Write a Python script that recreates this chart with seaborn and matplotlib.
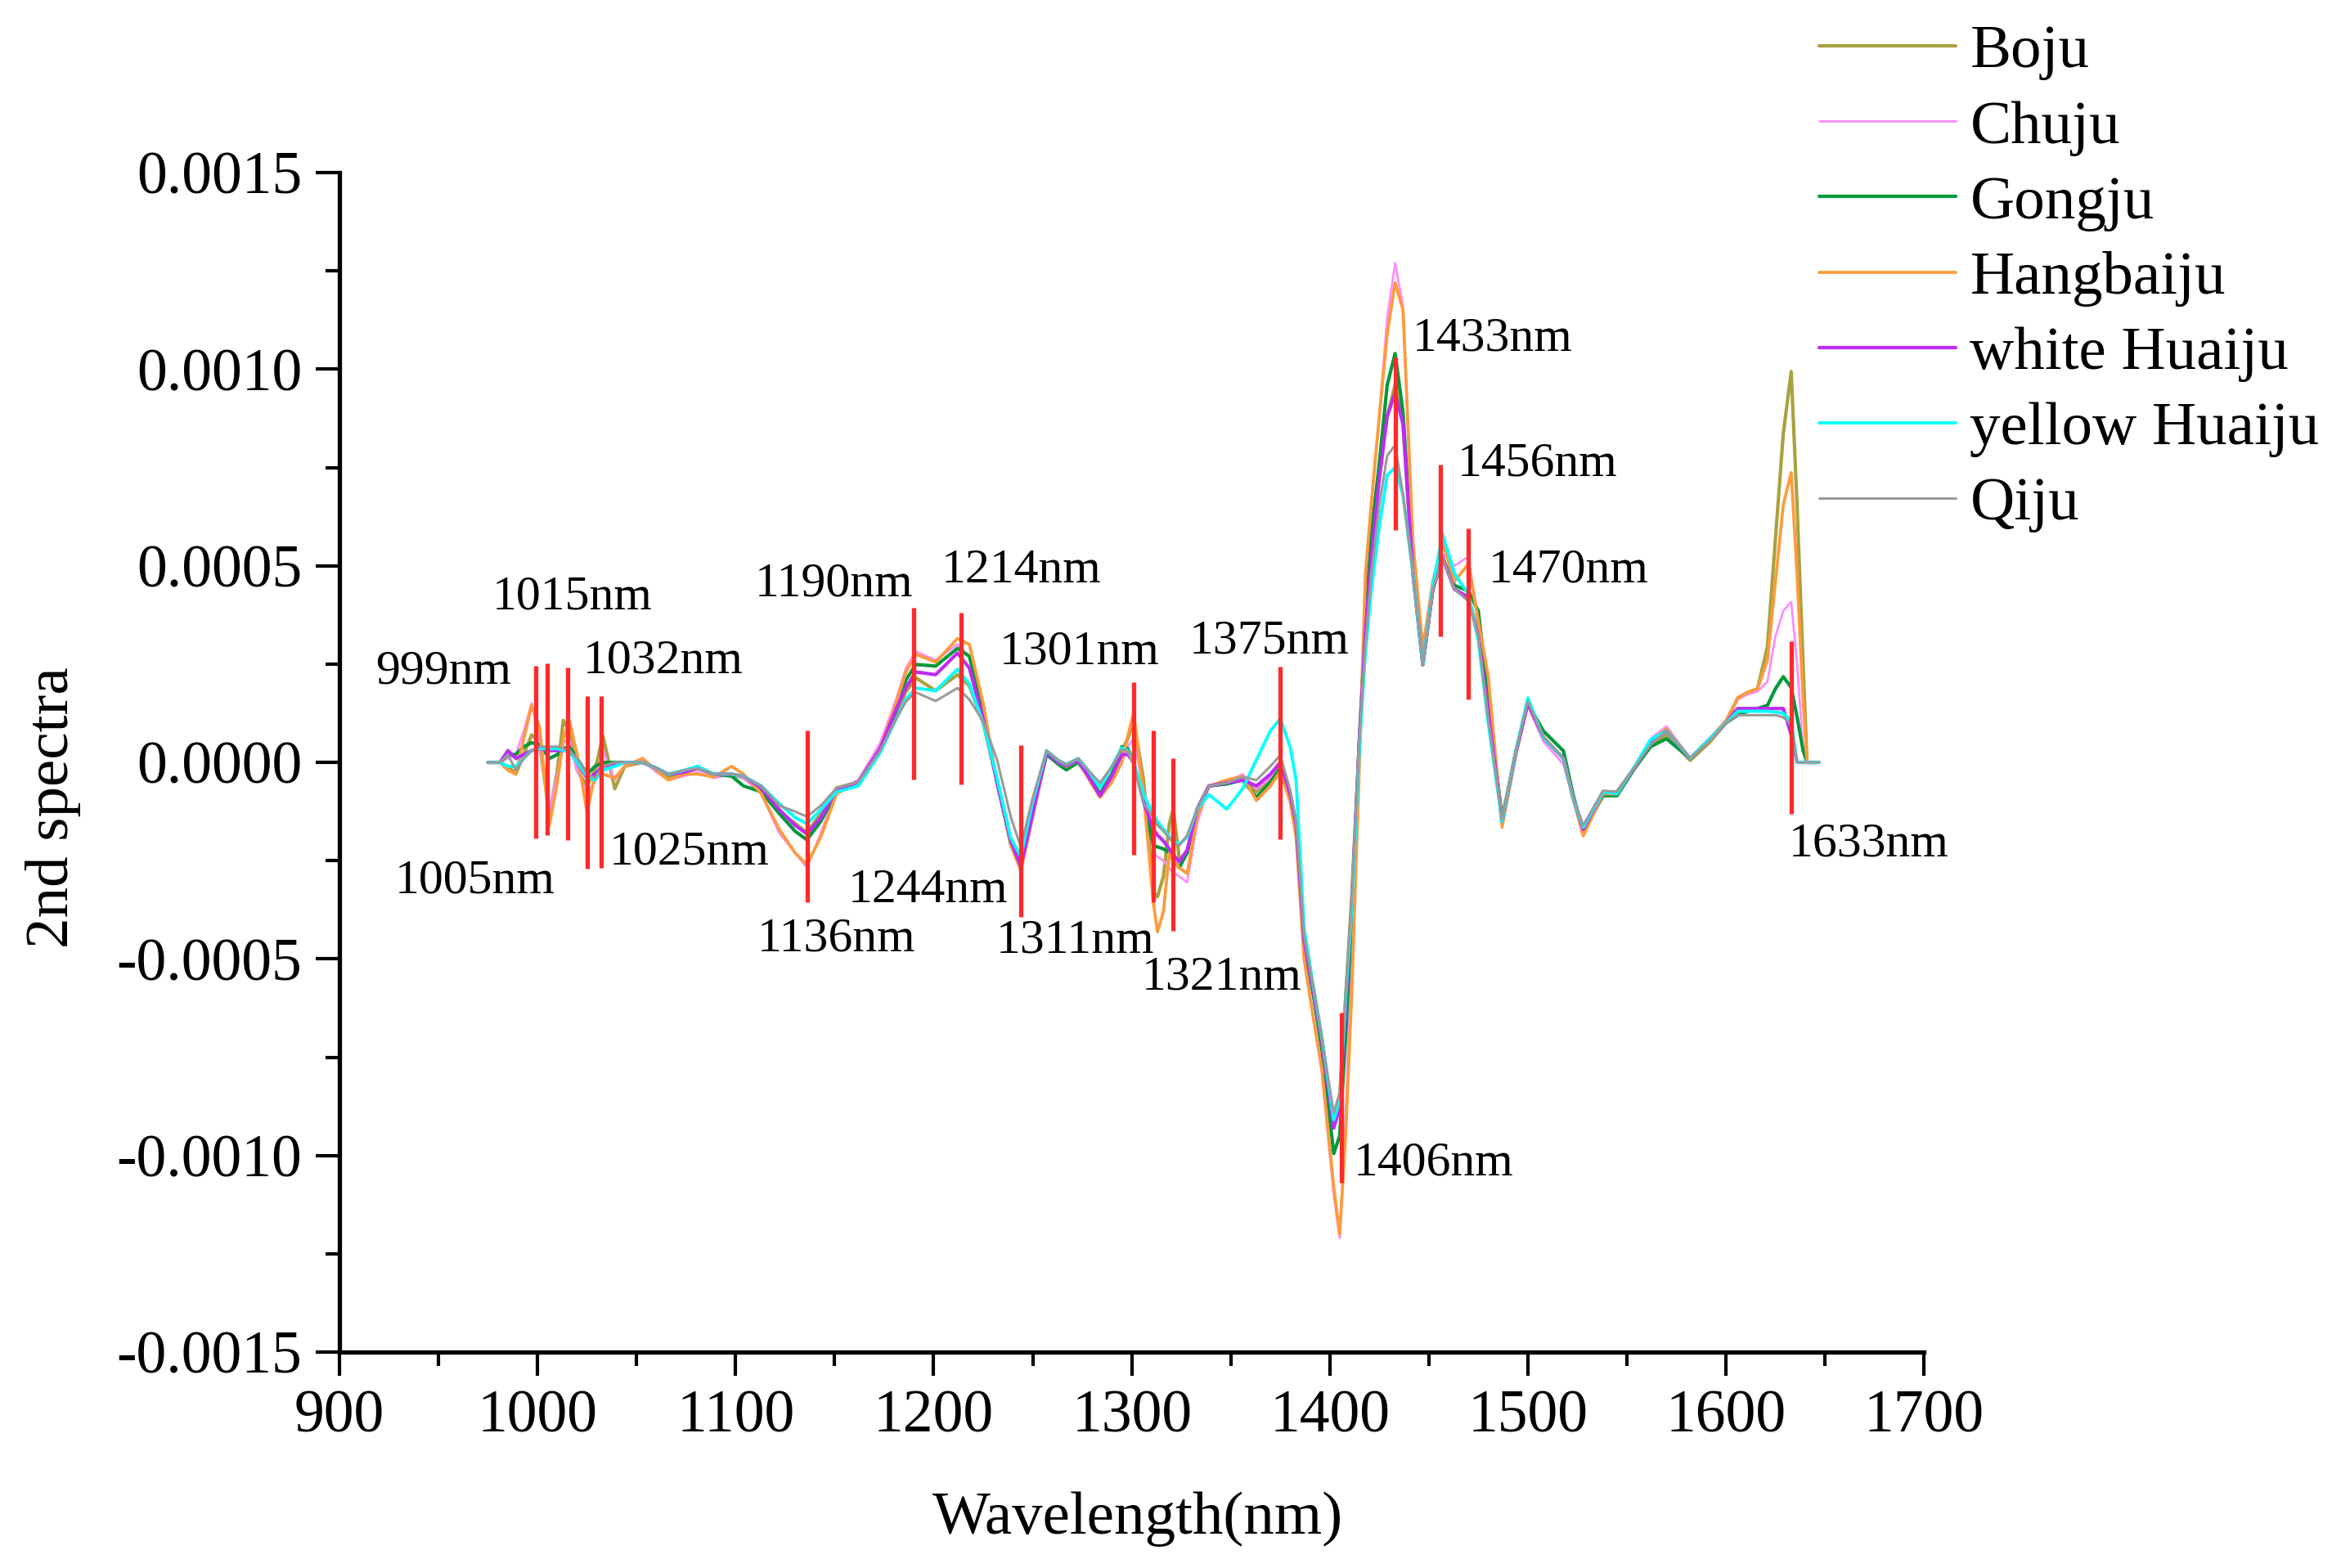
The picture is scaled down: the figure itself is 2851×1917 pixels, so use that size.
import numpy as np
import matplotlib
matplotlib.use('Agg')
import matplotlib.pyplot as plt
import seaborn as sns
from matplotlib.ticker import FuncFormatter, MultipleLocator

# wavelength grid (nm) and 2nd-derivative spectra, values in units of 1e-4
wavelength = [975, 981, 985, 989, 993, 997, 1001, 1006, 1010, 1013, 1016, 1020, 1025, 1029, 1033,
              1039, 1044, 1053, 1060, 1066, 1074, 1081, 1089, 1098, 1104, 1113, 1122, 1130, 1136,
              1143, 1151, 1162, 1173, 1181, 1186, 1191, 1201, 1212, 1218, 1225, 1232, 1239, 1244,
              1250, 1257, 1263, 1267, 1273, 1278, 1284, 1290, 1295, 1298, 1301, 1306, 1311, 1313,
              1316, 1319, 1321, 1324, 1328, 1333, 1339, 1348, 1356, 1363, 1370, 1375, 1380, 1383,
              1387, 1392, 1396, 1402, 1405, 1408, 1411, 1415, 1418, 1421, 1425, 1429, 1433, 1437,
              1442, 1447, 1452, 1457, 1463, 1470, 1475, 1480, 1487, 1494, 1500, 1508, 1518, 1523,
              1528, 1538, 1545, 1554, 1562, 1570, 1582, 1592, 1600, 1606, 1611, 1616, 1621, 1625,
              1629, 1633, 1636, 1639, 1641, 1647]

boju = [0, 0, -0.1, -0.3, 0.2, 0.7, 0.5, -1.35, -0.2, 1.07, 0.8, -0.2, -0.6, -0.2, 0.67,
        -0.67, -0.1, 0.0, -0.15, -0.4, -0.25, -0.15, -0.3, -0.3, -0.4, -0.7, -1.25, -1.55, -1.79,
        -1.3, -0.65, -0.5, 0.3, 1.2, 1.8, 2.15, 1.82, 2.23, 1.95, 1.0, -0.5, -2.0, -2.6,
        -1.2, 0.25, 0.05, -0.08, 0.07, -0.3, -0.8, -0.3, 0.3, 0.6, 1.04, -0.45, -3.3, -3.42,
        -2.9, -1.56, -1.19, -2.45, -2.3, -1.2, -0.6, -0.52, -0.4, -0.75, -0.4, -0.08, -0.8, -1.56,
        -4.5, -5.8, -7.0, -9.3, -8.5, -6.0, -3.5, 0.6, 3.4, 5.8, 7.5, 8.8, 9.6, 8.6,
        4.8, 2.48, 4.4, 5.2, 4.4, 4.2, 3.3, 1.5, -1.4, 0.25, 1.5, 0.62, 0.1, -0.93,
        -1.7, -0.75, -0.75, -0.12, 0.45, 0.7, 0.05, 0.52, 1.0, 1.64, 1.78, 1.87, 2.95, 5.66,
        8.36, 9.94, 6.5, 2.5, 0, 0]

chuju = [0, 0, 0.1, 0.2, 0.8, 1.5, 0.5, -1.2, -0.3, 0.5, 0.6, -0.2, -0.8, -0.5, 0.3,
         -0.45, -0.1, 0.05, -0.25, -0.45, -0.35, -0.25, -0.4, -0.3, -0.4, -0.8, -1.8, -2.3, -2.68,
         -1.8, -0.7, -0.45, 0.5, 1.6, 2.4, 2.82, 2.6, 3.0, 2.7, 1.2, -0.6, -2.1, -2.55,
         -1.2, 0.25, 0.0, -0.1, 0.05, -0.4, -0.89, -0.5, 0.0, 0.4, 0.6, -0.7, -2.3, -2.4,
         -2.5, -2.7, -2.8, -2.9, -3.05, -1.56, -0.6, -0.5, -0.3, -0.68, -0.4, -0.15, -0.9, -1.7,
         -4.9, -6.6, -7.9, -11.0, -12.1, -9.0, -5.0, 0.3, 4.0, 6.6, 8.8, 11.3, 12.7, 11.6,
         5.2, 2.6, 4.3, 5.3, 5.0, 5.23, 3.6, 2.0, -1.5, 0.2, 1.45, 0.52, -0.05, -0.95,
         -1.87, -0.8, -0.8, -0.1, 0.6, 0.92, 0.1, 0.6, 1.06, 1.6, 1.73, 1.8, 2.05, 3.2,
         3.85, 4.08, 2.5, 0.33, 0, 0]

gongju = [0, 0, 0.2, 0.2, 0.4, 0.5, 0.45, 0.1, 0.2, 0.35, 0.4, 0.1, -0.3, -0.1, 0.0,
          0.0, 0.0, 0.0, -0.15, -0.3, -0.25, -0.15, -0.3, -0.35, -0.6, -0.75, -1.3, -1.75, -1.97,
          -1.5, -0.75, -0.5, 0.35, 1.3, 2.1, 2.49, 2.45, 2.9, 2.7, 1.3, -0.5, -2.1, -2.7,
          -1.3, 0.2, -0.05, -0.19, 0.0, -0.35, -0.8, -0.3, 0.4, 0.35, 0.0, -0.97, -2.12, -2.15,
          -2.2, -2.3, -2.5, -2.68, -2.3, -1.19, -0.6, -0.55, -0.45, -0.89, -0.5, -0.15, -0.9, -1.6,
          -4.6, -6.0, -7.3, -9.95, -9.5, -7.0, -4.0, 0.6, 3.5, 5.8, 7.6, 9.6, 10.4, 8.9,
          4.9, 2.5, 4.4, 5.2, 4.5, 4.36, 3.85, 1.7, -1.5, 0.3, 1.5, 0.79, 0.29, -0.85,
          -1.78, -0.85, -0.85, -0.15, 0.4, 0.6, 0.1, 0.6, 1.0, 1.2, 1.3, 1.37, 1.45, 1.87,
          2.18, 1.9, 1.14, 0.3, 0, 0]

hangbaiju = [0, 0, -0.2, -0.3, 0.6, 1.45, 0.9, -1.6, -0.5, 0.6, 1.07, 0.2, -1.27, -0.3, -0.3,
             -0.4, -0.1, 0.1, -0.2, -0.45, -0.3, -0.3, -0.37, -0.1, -0.3, -0.8, -1.7, -2.3, -2.6,
             -1.9, -0.8, -0.5, 0.35, 1.5, 2.3, 2.75, 2.55, 3.15, 3.0, 1.5, -0.5, -2.1, -2.75,
             -1.4, 0.27, 0.0, -0.1, 0.05, -0.4, -0.89, -0.5, 0.0, 0.67, 1.26, -0.82, -3.6, -4.31,
             -3.8, -2.3, -2.5, -2.68, -2.83, -1.4, -0.6, -0.45, -0.35, -0.97, -0.6, -0.23, -1.0, -1.9,
             -5.0, -6.6, -7.8, -10.8, -12.0, -9.5, -6.0, 0.0, 4.8, 6.6, 8.8, 10.9, 12.2, 11.5,
             5.6, 2.9, 4.6, 5.6, 4.6, 5.05, 3.6, 2.2, -1.65, 0.2, 1.5, 0.62, 0.1, -0.95,
             -1.87, -0.8, -0.8, -0.12, 0.55, 0.85, 0.1, 0.6, 1.06, 1.64, 1.78, 1.87, 2.6, 4.58,
             6.55, 7.37, 4.74, 1.6, 0, 0]

white_huaiju = [0, 0, 0.3, 0.1, 0.2, 0.3, 0.35, 0.3, 0.3, 0.3, 0.3, 0.0, -0.4, -0.3, -0.1,
                -0.05, 0.0, 0.0, -0.15, -0.3, -0.25, -0.15, -0.3, -0.3, -0.35, -0.65, -1.2, -1.6, -1.82,
                -1.4, -0.7, -0.5, 0.35, 1.35, 1.9, 2.3, 2.23, 2.78, 2.4, 1.1, -0.5, -2.0, -2.65,
                -1.3, 0.25, 0.0, -0.08, 0.05, -0.35, -0.85, -0.35, 0.2, 0.2, 0.0, -1.0, -1.71, -1.85,
                -2.0, -2.2, -2.35, -2.53, -2.23, -1.19, -0.6, -0.52, -0.45, -0.6, -0.3, 0.0, -0.8, -1.56,
                -4.5, -5.9, -7.1, -9.3, -8.8, -6.2, -3.7, 0.6, 3.3, 5.2, 7.2, 8.8, 9.4, 8.6,
                4.8, 2.48, 4.4, 5.2, 4.4, 4.2, 3.2, 1.3, -1.5, 0.25, 1.5, 0.62, 0.1, -0.93,
                -1.7, -0.75, -0.79, -0.12, 0.5, 0.8, 0.1, 0.6, 1.0, 1.37, 1.37, 1.37, 1.37, 1.37,
                1.37, 0.7, 0.0, 0.0, 0, 0]

yellow_huaiju = [0, 0, -0.1, -0.1, 0.1, 0.3, 0.35, 0.35, 0.35, 0.3, 0.3, 0.0, -0.35, -0.45, -0.2,
                 -0.1, 0.0, 0.0, -0.15, -0.3, -0.2, -0.1, -0.3, -0.3, -0.35, -0.6, -1.05, -1.4, -1.56,
                 -1.2, -0.75, -0.6, 0.25, 1.1, 1.6, 1.89, 1.82, 2.37, 2.0, 1.0, -0.4, -1.93, -2.4,
                 -1.0, 0.3, 0.05, -0.05, 0.1, -0.2, -0.63, -0.1, 0.37, 0.3, 0.0, -0.82, -1.34, -1.5,
                 -1.7, -1.9, -2.0, -2.08, -1.9, -1.19, -0.82, -1.19, -0.67, 0.07, 0.8, 1.11, 0.4, -0.45,
                 -4.2, -5.8, -7.0, -9.1, -8.6, -6.0, -3.8, 0.4, 2.8, 4.4, 6.0, 7.3, 7.5, 6.8,
                 4.8, 2.48, 4.5, 5.8, 4.8, 4.28, 3.1, 1.0, -1.5, 0.3, 1.64, 0.62, 0.1, -0.93,
                 -1.65, -0.75, -0.8, -0.1, 0.58, 0.8, 0.1, 0.6, 1.0, 1.3, 1.3, 1.3, 1.3, 1.28,
                 1.25, 1.05, 0.0, 0.0, 0, 0]

qiju = [0, 0, 0.2, -0.2, 0.1, 0.3, 0.4, 0.4, 0.4, 0.35, 0.3, 0.1, -0.3, -0.4, -0.1,
        0.0, 0.0, 0.0, -0.15, -0.3, -0.2, -0.15, -0.3, -0.3, -0.35, -0.6, -1.1, -1.25, -1.38,
        -1.1, -0.65, -0.5, 0.3, 1.1, 1.55, 1.78, 1.56, 1.89, 1.6, 1.04, 0.07, -1.4, -2.15,
        -0.9, 0.3, 0.05, -0.05, 0.1, -0.2, -0.52, -0.1, 0.33, 0.29, -0.08, -1.04, -1.41, -1.6,
        -1.75, -1.93, -2.05, -2.12, -1.85, -1.19, -0.6, -0.52, -0.37, -0.45, -0.1, 0.18, -0.7, -1.5,
        -4.4, -5.8, -7.03, -8.92, -8.4, -5.9, -3.5, 0.6, 3.0, 4.8, 6.55, 7.8, 8.07, 6.8,
        4.8, 2.48, 4.4, 5.2, 4.4, 4.1, 3.2, 1.1, -1.45, 0.3, 1.55, 0.65, 0.1, -0.9,
        -1.6, -0.72, -0.75, -0.12, 0.45, 0.8, 0.1, 0.55, 1.0, 1.2, 1.2, 1.2, 1.2, 1.2,
        1.15, 0.95, 0.0, 0.0, 0, 0]

varieties = ['Boju', 'Chuju', 'Gongju', 'Hangbaiju', 'white Huaiju', 'yellow Huaiju', 'Qiju']
series = [boju, chuju, gongju, hangbaiju, white_huaiju, yellow_huaiju, qiju]
colors = ['#A8A23E', '#FF8CFF', '#00993A', '#FF9A3C', '#BF2AF8', '#00FFFF', '#9A9A9A']
widths = [3.0, 2.0, 3.0, 2.7, 3.0, 2.8, 2.2]

# marked bands: position (nm), top and bottom of the red marker (1e-4)
mark_wl = [999, 1005, 1015, 1025, 1032, 1136, 1190, 1214, 1244, 1301, 1311, 1321, 1375,
           1406, 1433, 1456, 1470, 1633]
mark_hi = [2.45, 2.52, 2.41, 1.69, 1.69, 0.81, 3.93, 3.80, 0.44, 2.03, 0.81, 0.11, 2.43,
           -6.36, 10.3, 7.58, 5.95, 3.08]
mark_lo = [-1.93, -1.86, -1.97, -2.71, -2.68, -3.55, -0.43, -0.56, -3.94, -2.36, -3.55, -4.28, -1.95,
           -10.69, 5.9, 3.2, 1.61, -1.31]

# annotation text: label, left x (nm), y (1e-4)
label_txt = ['999nm', '1005nm', '1015nm', '1025nm', '1032nm', '1136nm', '1190nm', '1214nm',
             '1244nm', '1301nm', '1311nm', '1321nm', '1375nm', '1406nm', '1433nm', '1456nm',
             '1470nm', '1633nm']
label_x = [918, 928, 977, 1036, 1023, 1110.7, 1109.8, 1203.8, 1156.8, 1233, 1231.7, 1305, 1328.8,
           1412, 1441.7, 1464.4, 1480.2, 1631.8]
label_y = [2.31, -3.03, 4.19, -2.3, 2.56, -4.5, 4.53, 4.86, -3.27, 2.8, -4.54, -5.49, 3.08,
           -10.2, 10.77, 7.59, 4.88, -2.1]

sns.set_style('ticks')
plt.rcParams['font.family'] = ['Liberation Serif', 'DejaVu Serif']
plt.rcParams['axes.unicode_minus'] = False
plt.rcParams.update({'text.color': 'black', 'axes.labelcolor': 'black',
                     'xtick.color': 'black', 'ytick.color': 'black',
                     'axes.edgecolor': 'black'})

fig = plt.figure(figsize=(28.51, 19.17), dpi=100)
ax = fig.add_axes([0.1456, 0.1377, 0.6794, 0.7522])

wl = np.array(wavelength)
for name, vals, c, lw in zip(varieties, series, colors, widths):
    sns.lineplot(x=wl, y=np.array(vals) * 1e-4, ax=ax, color=c, lw=lw, label=name,
                 estimator=None, sort=False)

handles, labels = ax.get_legend_handles_labels()
if ax.get_legend() is not None:
    ax.get_legend().remove()

ax.vlines(mark_wl, np.array(mark_lo) * 1e-4, np.array(mark_hi) * 1e-4,
          colors='#FF2A2A', lw=3.8, zorder=5)

for t, x, y in zip(label_txt, label_x, label_y):
    ax.text(x, y * 1e-4, t, fontsize=43, ha='left', va='center', zorder=6, color='black')

ax.set_xlim(900, 1700)
ax.set_ylim(-0.0015, 0.0015)
ax.xaxis.set_major_locator(MultipleLocator(100))
ax.xaxis.set_minor_locator(MultipleLocator(50))
ax.yaxis.set_major_locator(MultipleLocator(0.0005))
ax.yaxis.set_minor_locator(MultipleLocator(0.00025))
ax.yaxis.set_major_formatter(FuncFormatter(lambda v, p: f'{0.0 if abs(v) < 1e-12 else v:.4f}'))

sns.despine(ax=ax)
for s in ['left', 'bottom']:
    ax.spines[s].set_linewidth(3.8)
    ax.spines[s].set_color('black')
ax.tick_params(which='major', direction='out', length=21, width=3, labelsize=53, pad=12,
               colors='black')
ax.tick_params(which='minor', direction='out', length=12, width=3, colors='black')

ax.set_xlabel('Wavelength(nm)', fontsize=54, color='black')
ax.set_ylabel('2nd spectra', fontsize=54, color='black')
ax.xaxis.set_label_coords(0.504, -0.118)
ax.yaxis.set_label_coords(-0.163, 0.462)

leg = fig.legend(handles, labels, loc='upper left', bbox_to_anchor=(2224 / 2851, 1 - 30 / 1917),
                 frameon=False, fontsize=54, handlelength=2.22, handletextpad=0.24,
                 labelspacing=0.315, borderpad=0, borderaxespad=0)
for t in leg.get_texts():
    t.set_color('black')

fig.savefig('out.png', dpi=100)
